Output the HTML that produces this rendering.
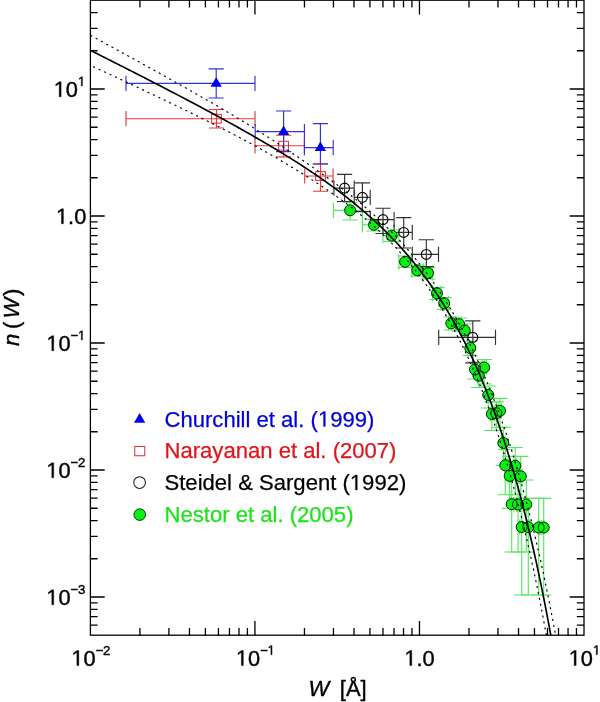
<!DOCTYPE html>
<html><head><meta charset="utf-8"><title>n(W)</title>
<style>html,body{margin:0;padding:0;background:#fff;}body{width:600px;height:702px;position:relative;overflow:hidden;font-family:"Liberation Sans",sans-serif;}</style>
</head><body>
<svg width="600" height="702" viewBox="0 0 600 702" style="position:absolute;left:0;top:0;will-change:transform">
<defs><clipPath id="cp"><rect x="90.40" y="0.20" width="493.60" height="635.00"/></clipPath></defs>
<g clip-path="url(#cp)">
<path d="M333.4,210.3H362.4M333.4,202.7V217.9M362.4,202.7V217.9" stroke="#55e85e" stroke-width="1.15" fill="none"/>
<path d="M350.1,202.3V220.0M342.5,202.3H357.7M342.5,220.0H357.7" stroke="#55e85e" stroke-width="1.15" fill="none"/>
<path d="M362.4,224.8H383.0M362.4,217.2V232.4M383.0,217.2V232.4" stroke="#55e85e" stroke-width="1.15" fill="none"/>
<path d="M374.0,219.3V231.0M366.4,219.3H381.6M366.4,231.0H381.6" stroke="#55e85e" stroke-width="1.15" fill="none"/>
<path d="M383.0,235.7H398.9M383.0,228.1V243.3M398.9,228.1V243.3" stroke="#55e85e" stroke-width="1.15" fill="none"/>
<path d="M391.7,230.0V241.5M384.1,230.0H399.3M384.1,241.5H399.3" stroke="#55e85e" stroke-width="1.15" fill="none"/>
<path d="M398.9,261.8H411.9M398.9,254.2V269.4M411.9,254.2V269.4" stroke="#55e85e" stroke-width="1.15" fill="none"/>
<path d="M405.1,256.0V267.5M397.5,256.0H412.7M397.5,267.5H412.7" stroke="#55e85e" stroke-width="1.15" fill="none"/>
<path d="M411.9,270.4H423.0M411.9,262.8V278.0M423.0,262.8V278.0" stroke="#55e85e" stroke-width="1.15" fill="none"/>
<path d="M417.3,265.0V276.0M409.7,265.0H424.9M409.7,276.0H424.9" stroke="#55e85e" stroke-width="1.15" fill="none"/>
<path d="M423.0,273.1H432.5M423.0,265.5V280.7M432.5,265.5V280.7" stroke="#55e85e" stroke-width="1.15" fill="none"/>
<path d="M428.0,267.5V279.0M420.4,267.5H435.6M420.4,279.0H435.6" stroke="#55e85e" stroke-width="1.15" fill="none"/>
<path d="M432.5,293.3H440.9M432.5,285.7V300.9M440.9,285.7V300.9" stroke="#55e85e" stroke-width="1.15" fill="none"/>
<path d="M437.0,287.5V299.5M429.4,287.5H444.6M429.4,299.5H444.6" stroke="#55e85e" stroke-width="1.15" fill="none"/>
<path d="M440.9,303.3H448.4M440.9,295.7V310.9M448.4,295.7V310.9" stroke="#55e85e" stroke-width="1.15" fill="none"/>
<path d="M444.2,297.5V309.5M436.6,297.5H451.8M436.6,309.5H451.8" stroke="#55e85e" stroke-width="1.15" fill="none"/>
<path d="M448.4,323.3H455.3M448.4,315.7V330.9M455.3,315.7V330.9" stroke="#55e85e" stroke-width="1.15" fill="none"/>
<path d="M451.3,317.0V330.0M443.7,317.0H458.9M443.7,330.0H458.9" stroke="#55e85e" stroke-width="1.15" fill="none"/>
<path d="M455.3,324.2H461.5M455.3,316.6V331.8M461.5,316.6V331.8" stroke="#55e85e" stroke-width="1.15" fill="none"/>
<path d="M459.2,318.0V331.0M451.6,318.0H466.8M451.6,331.0H466.8" stroke="#55e85e" stroke-width="1.15" fill="none"/>
<path d="M461.5,330.5H467.2M461.5,322.9V338.1M467.2,322.9V338.1" stroke="#55e85e" stroke-width="1.15" fill="none"/>
<path d="M464.7,324.0V337.5M457.1,324.0H472.3M457.1,337.5H472.3" stroke="#55e85e" stroke-width="1.15" fill="none"/>
<path d="M467.2,348.0H472.5M467.2,340.4V355.6M472.5,340.4V355.6" stroke="#55e85e" stroke-width="1.15" fill="none"/>
<path d="M470.3,341.0V355.5M462.7,341.0H477.9M462.7,355.5H477.9" stroke="#55e85e" stroke-width="1.15" fill="none"/>
<path d="M482.0,367.5H486.4M482.0,359.9V375.1M486.4,359.9V375.1" stroke="#55e85e" stroke-width="1.15" fill="none"/>
<path d="M484.2,359.5V384.0M476.6,359.5H491.8M476.6,384.0H491.8" stroke="#55e85e" stroke-width="1.15" fill="none"/>
<path d="M472.5,369.5H477.4M472.5,361.9V377.1M477.4,361.9V377.1" stroke="#55e85e" stroke-width="1.15" fill="none"/>
<path d="M475.0,362.0V379.0M467.4,362.0H482.6M467.4,379.0H482.6" stroke="#55e85e" stroke-width="1.15" fill="none"/>
<path d="M477.4,375.8H482.0M477.4,368.2V383.4M482.0,368.2V383.4" stroke="#55e85e" stroke-width="1.15" fill="none"/>
<path d="M478.7,367.5V387.5M471.1,367.5H486.3M471.1,387.5H486.3" stroke="#55e85e" stroke-width="1.15" fill="none"/>
<path d="M486.4,395.0H490.4M486.4,387.4V402.6M490.4,387.4V402.6" stroke="#55e85e" stroke-width="1.15" fill="none"/>
<path d="M488.3,386.0V408.0M480.7,386.0H495.9M480.7,408.0H495.9" stroke="#55e85e" stroke-width="1.15" fill="none"/>
<path d="M498.0,410.8H501.5M498.0,403.2V418.4M501.5,403.2V418.4" stroke="#55e85e" stroke-width="1.15" fill="none"/>
<path d="M500.0,398.4V427.2M492.4,398.4H507.6M492.4,427.2H507.6" stroke="#55e85e" stroke-width="1.15" fill="none"/>
<path d="M494.3,413.3H498.0M494.3,405.7V420.9M498.0,405.7V420.9" stroke="#55e85e" stroke-width="1.15" fill="none"/>
<path d="M496.3,401.8V430.5M488.7,401.8H503.9M488.7,430.5H503.9" stroke="#55e85e" stroke-width="1.15" fill="none"/>
<path d="M490.4,414.0H494.3M490.4,406.4V421.6M494.3,406.4V421.6" stroke="#55e85e" stroke-width="1.15" fill="none"/>
<path d="M491.9,402.0V430.5M484.3,402.0H499.5M484.3,430.5H499.5" stroke="#55e85e" stroke-width="1.15" fill="none"/>
<path d="M501.5,443.0H504.8M501.5,435.4V450.6M504.8,435.4V450.6" stroke="#55e85e" stroke-width="1.15" fill="none"/>
<path d="M503.3,427.2V465.3M495.7,427.2H510.9M495.7,465.3H510.9" stroke="#55e85e" stroke-width="1.15" fill="none"/>
<path d="M504.8,465.3H508.0M504.8,457.7V472.9M508.0,457.7V472.9" stroke="#55e85e" stroke-width="1.15" fill="none"/>
<path d="M505.3,449.5V494.7M497.7,449.5H512.9M497.7,494.7H512.9" stroke="#55e85e" stroke-width="1.15" fill="none"/>
<path d="M513.9,465.8H516.7M513.9,458.2V473.4M516.7,458.2V473.4" stroke="#55e85e" stroke-width="1.15" fill="none"/>
<path d="M515.3,447.5V494.7M507.7,447.5H522.9M507.7,494.7H522.9" stroke="#55e85e" stroke-width="1.15" fill="none"/>
<path d="M508.0,475.8H511.0M508.0,468.2V483.4M511.0,468.2V483.4" stroke="#55e85e" stroke-width="1.15" fill="none"/>
<path d="M509.7,456.3V508.3M502.1,456.3H517.3M502.1,508.3H517.3" stroke="#55e85e" stroke-width="1.15" fill="none"/>
<path d="M519.4,476.3H522.0M519.4,468.7V483.9M522.0,468.7V483.9" stroke="#55e85e" stroke-width="1.15" fill="none"/>
<path d="M520.8,456.3V508.3M513.2,456.3H528.4M513.2,508.3H528.4" stroke="#55e85e" stroke-width="1.15" fill="none"/>
<path d="M511.0,504.2H513.9M511.0,496.6V511.8M513.9,496.6V511.8" stroke="#55e85e" stroke-width="1.15" fill="none"/>
<path d="M511.7,480.0V552.0M504.1,480.0H519.3M504.1,552.0H519.3" stroke="#55e85e" stroke-width="1.15" fill="none"/>
<path d="M516.7,504.5H519.4M516.7,496.9V512.1M519.4,496.9V512.1" stroke="#55e85e" stroke-width="1.15" fill="none"/>
<path d="M518.0,480.0V552.0M510.4,480.0H525.6M510.4,552.0H525.6" stroke="#55e85e" stroke-width="1.15" fill="none"/>
<path d="M524.5,504.5H526.9M524.5,496.9V512.1M526.9,496.9V512.1" stroke="#55e85e" stroke-width="1.15" fill="none"/>
<path d="M526.3,480.0V552.0M518.7,480.0H533.9M518.7,552.0H533.9" stroke="#55e85e" stroke-width="1.15" fill="none"/>
<path d="M519.4,527.0H522.0M519.4,519.4V534.6M522.0,519.4V534.6" stroke="#55e85e" stroke-width="1.15" fill="none"/>
<path d="M521.7,498.3V595.0M514.1,498.3H529.3M514.1,595.0H529.3" stroke="#55e85e" stroke-width="1.15" fill="none"/>
<path d="M526.9,527.2H529.3M526.9,519.6V534.8M529.3,519.6V534.8" stroke="#55e85e" stroke-width="1.15" fill="none"/>
<path d="M528.3,498.3V595.0M520.7,498.3H535.9M520.7,595.0H535.9" stroke="#55e85e" stroke-width="1.15" fill="none"/>
<path d="M538.0,527.5H540.0M538.0,519.9V535.1M540.0,519.9V535.1" stroke="#55e85e" stroke-width="1.15" fill="none"/>
<path d="M538.7,498.3V595.0M531.1,498.3H546.3M531.1,595.0H546.3" stroke="#55e85e" stroke-width="1.15" fill="none"/>
<path d="M541.9,527.5H543.8M541.9,519.9V535.1M543.8,519.9V535.1" stroke="#55e85e" stroke-width="1.15" fill="none"/>
<path d="M543.7,498.3V595.0M536.1,498.3H551.3M536.1,595.0H551.3" stroke="#55e85e" stroke-width="1.15" fill="none"/>
<path d="M333.9,188.1H354.2M333.9,180.5V195.7M354.2,180.5V195.7" stroke="#333" stroke-width="1.15" fill="none"/>
<path d="M344.6,174.4V201.5M337.0,174.4H352.2M337.0,201.5H352.2" stroke="#333" stroke-width="1.15" fill="none"/>
<path d="M354.2,197.3H370.2M354.2,189.7V204.9M370.2,189.7V204.9" stroke="#333" stroke-width="1.15" fill="none"/>
<path d="M362.4,182.9V211.6M354.8,182.9H370.0M354.8,211.6H370.0" stroke="#333" stroke-width="1.15" fill="none"/>
<path d="M370.3,219.6H394.1M370.3,212.0V227.2M394.1,212.0V227.2" stroke="#333" stroke-width="1.15" fill="none"/>
<path d="M383.0,208.2V233.5M375.4,208.2H390.6M375.4,233.5H390.6" stroke="#333" stroke-width="1.15" fill="none"/>
<path d="M394.1,232.4H412.3M394.1,224.8V240.0M412.3,224.8V240.0" stroke="#333" stroke-width="1.15" fill="none"/>
<path d="M403.7,217.6V248.0M396.1,217.6H411.3M396.1,248.0H411.3" stroke="#333" stroke-width="1.15" fill="none"/>
<path d="M412.3,254.4H438.5M412.3,246.8V262.0M438.5,246.8V262.0" stroke="#333" stroke-width="1.15" fill="none"/>
<path d="M426.3,239.7V266.6M418.7,239.7H433.9M418.7,266.6H433.9" stroke="#333" stroke-width="1.15" fill="none"/>
<path d="M438.7,337.3H495.5M438.7,329.7V344.9M495.5,329.7V344.9" stroke="#333" stroke-width="1.15" fill="none"/>
<path d="M472.8,320.8V362.8M465.2,320.8H480.4M465.2,362.8H480.4" stroke="#333" stroke-width="1.15" fill="none"/>
<path d="M126.0,118.7H255.0M126.0,111.1V126.3M255.0,111.1V126.3" stroke="#e63c3c" stroke-width="1.15" fill="none"/>
<path d="M216.5,109.5V128.0M208.9,109.5H224.1M208.9,128.0H224.1" stroke="#e63c3c" stroke-width="1.15" fill="none"/>
<path d="M255.0,145.7H304.4M255.0,138.1V153.3M304.4,138.1V153.3" stroke="#e63c3c" stroke-width="1.15" fill="none"/>
<path d="M283.6,135.2V156.8M276.0,135.2H291.2M276.0,156.8H291.2" stroke="#e63c3c" stroke-width="1.15" fill="none"/>
<path d="M304.7,176.0H333.1M304.7,168.4V183.6M333.1,168.4V183.6" stroke="#e63c3c" stroke-width="1.15" fill="none"/>
<path d="M320.5,163.9V191.2M312.9,163.9H328.1M312.9,191.2H328.1" stroke="#e63c3c" stroke-width="1.15" fill="none"/>
<path d="M126.0,83.3H255.0M126.0,75.7V90.9M255.0,75.7V90.9" stroke="#3434d6" stroke-width="1.15" fill="none"/>
<path d="M216.2,68.9V98.0M208.6,68.9H223.8M208.6,98.0H223.8" stroke="#3434d6" stroke-width="1.15" fill="none"/>
<path d="M255.2,131.6H304.4M255.2,124.0V139.2M304.4,124.0V139.2" stroke="#3434d6" stroke-width="1.15" fill="none"/>
<path d="M283.6,111.0V151.6M276.0,111.0H291.2M276.0,151.6H291.2" stroke="#3434d6" stroke-width="1.15" fill="none"/>
<path d="M304.4,147.6H333.2M304.4,140.0V155.2M333.2,140.0V155.2" stroke="#3434d6" stroke-width="1.15" fill="none"/>
<path d="M320.4,123.6V164.0M312.8,123.6H328.0M312.8,164.0H328.0" stroke="#3434d6" stroke-width="1.15" fill="none"/>
<circle cx="350.1" cy="210.3" r="5.5" fill="#08f010"/>
<circle cx="374.0" cy="224.8" r="5.5" fill="#08f010"/>
<circle cx="391.7" cy="235.7" r="5.5" fill="#08f010"/>
<circle cx="405.1" cy="261.8" r="5.5" fill="#08f010"/>
<circle cx="417.3" cy="270.4" r="5.5" fill="#08f010"/>
<circle cx="428.0" cy="273.1" r="5.5" fill="#08f010"/>
<circle cx="437.0" cy="293.3" r="5.5" fill="#08f010"/>
<circle cx="444.2" cy="303.3" r="5.5" fill="#08f010"/>
<circle cx="451.3" cy="323.3" r="5.5" fill="#08f010"/>
<circle cx="459.2" cy="324.2" r="5.5" fill="#08f010"/>
<circle cx="464.7" cy="330.5" r="5.5" fill="#08f010"/>
<circle cx="470.3" cy="348.0" r="5.5" fill="#08f010"/>
<circle cx="484.2" cy="367.5" r="5.5" fill="#08f010"/>
<circle cx="475.0" cy="369.5" r="5.5" fill="#08f010"/>
<circle cx="478.7" cy="375.8" r="5.5" fill="#08f010"/>
<circle cx="488.3" cy="395.0" r="5.5" fill="#08f010"/>
<circle cx="500.0" cy="410.8" r="5.5" fill="#08f010"/>
<circle cx="496.3" cy="413.3" r="5.5" fill="#08f010"/>
<circle cx="491.9" cy="414.0" r="5.5" fill="#08f010"/>
<circle cx="503.3" cy="443.0" r="5.5" fill="#08f010"/>
<circle cx="505.3" cy="465.3" r="5.5" fill="#08f010"/>
<circle cx="515.3" cy="465.8" r="5.5" fill="#08f010"/>
<circle cx="509.7" cy="475.8" r="5.5" fill="#08f010"/>
<circle cx="520.8" cy="476.3" r="5.5" fill="#08f010"/>
<circle cx="511.7" cy="504.2" r="5.5" fill="#08f010"/>
<circle cx="518.0" cy="504.5" r="5.5" fill="#08f010"/>
<circle cx="526.3" cy="504.5" r="5.5" fill="#08f010"/>
<circle cx="521.7" cy="527.0" r="5.5" fill="#08f010"/>
<circle cx="528.3" cy="527.2" r="5.5" fill="#08f010"/>
<circle cx="538.7" cy="527.5" r="5.5" fill="#08f010"/>
<circle cx="543.7" cy="527.5" r="5.5" fill="#08f010"/>
<circle cx="350.1" cy="210.3" r="5.5" fill="none" stroke="#002800" stroke-width="1"/>
<circle cx="374.0" cy="224.8" r="5.5" fill="none" stroke="#002800" stroke-width="1"/>
<circle cx="391.7" cy="235.7" r="5.5" fill="none" stroke="#002800" stroke-width="1"/>
<circle cx="405.1" cy="261.8" r="5.5" fill="none" stroke="#002800" stroke-width="1"/>
<circle cx="417.3" cy="270.4" r="5.5" fill="none" stroke="#002800" stroke-width="1"/>
<circle cx="428.0" cy="273.1" r="5.5" fill="none" stroke="#002800" stroke-width="1"/>
<circle cx="437.0" cy="293.3" r="5.5" fill="none" stroke="#002800" stroke-width="1"/>
<circle cx="444.2" cy="303.3" r="5.5" fill="none" stroke="#002800" stroke-width="1"/>
<circle cx="451.3" cy="323.3" r="5.5" fill="none" stroke="#002800" stroke-width="1"/>
<circle cx="459.2" cy="324.2" r="5.5" fill="none" stroke="#002800" stroke-width="1"/>
<circle cx="464.7" cy="330.5" r="5.5" fill="none" stroke="#002800" stroke-width="1"/>
<circle cx="470.3" cy="348.0" r="5.5" fill="none" stroke="#002800" stroke-width="1"/>
<circle cx="484.2" cy="367.5" r="5.5" fill="none" stroke="#002800" stroke-width="1"/>
<circle cx="475.0" cy="369.5" r="5.5" fill="none" stroke="#002800" stroke-width="1"/>
<circle cx="478.7" cy="375.8" r="5.5" fill="none" stroke="#002800" stroke-width="1"/>
<circle cx="488.3" cy="395.0" r="5.5" fill="none" stroke="#002800" stroke-width="1"/>
<circle cx="500.0" cy="410.8" r="5.5" fill="none" stroke="#002800" stroke-width="1"/>
<circle cx="496.3" cy="413.3" r="5.5" fill="none" stroke="#002800" stroke-width="1"/>
<circle cx="491.9" cy="414.0" r="5.5" fill="none" stroke="#002800" stroke-width="1"/>
<circle cx="503.3" cy="443.0" r="5.5" fill="none" stroke="#002800" stroke-width="1"/>
<circle cx="505.3" cy="465.3" r="5.5" fill="none" stroke="#002800" stroke-width="1"/>
<circle cx="515.3" cy="465.8" r="5.5" fill="none" stroke="#002800" stroke-width="1"/>
<circle cx="509.7" cy="475.8" r="5.5" fill="none" stroke="#002800" stroke-width="1"/>
<circle cx="520.8" cy="476.3" r="5.5" fill="none" stroke="#002800" stroke-width="1"/>
<circle cx="511.7" cy="504.2" r="5.5" fill="none" stroke="#002800" stroke-width="1"/>
<circle cx="518.0" cy="504.5" r="5.5" fill="none" stroke="#002800" stroke-width="1"/>
<circle cx="526.3" cy="504.5" r="5.5" fill="none" stroke="#002800" stroke-width="1"/>
<circle cx="521.7" cy="527.0" r="5.5" fill="none" stroke="#002800" stroke-width="1"/>
<circle cx="528.3" cy="527.2" r="5.5" fill="none" stroke="#002800" stroke-width="1"/>
<circle cx="538.7" cy="527.5" r="5.5" fill="none" stroke="#002800" stroke-width="1"/>
<circle cx="543.7" cy="527.5" r="5.5" fill="none" stroke="#002800" stroke-width="1"/>
<circle cx="344.6" cy="188.1" r="4.95" fill="none" stroke="#000" stroke-width="1.1"/>
<circle cx="362.4" cy="197.3" r="4.95" fill="none" stroke="#000" stroke-width="1.1"/>
<circle cx="383.0" cy="219.6" r="4.95" fill="none" stroke="#000" stroke-width="1.1"/>
<circle cx="403.7" cy="232.4" r="4.95" fill="none" stroke="#000" stroke-width="1.1"/>
<circle cx="426.3" cy="254.4" r="4.95" fill="none" stroke="#000" stroke-width="1.1"/>
<circle cx="472.8" cy="337.3" r="4.95" fill="none" stroke="#000" stroke-width="1.1"/>
<rect x="211.65" y="114.30" width="9.7" height="8.8" fill="none" stroke="#d63038" stroke-width="1"/>
<rect x="278.75" y="141.30" width="9.7" height="8.8" fill="none" stroke="#d63038" stroke-width="1"/>
<rect x="315.65" y="171.60" width="9.7" height="8.8" fill="none" stroke="#d63038" stroke-width="1"/>
<path d="M216.20,77.30L221.85,86.70H210.55Z" fill="#0000f0"/>
<path d="M283.60,125.60L289.25,135.00H277.95Z" fill="#0000f0"/>
<path d="M320.40,141.60L326.05,151.00H314.75Z" fill="#0000f0"/>
<path d="M90.40,50.33 L91.59,50.94 L92.79,51.54 L93.98,52.14 L95.18,52.74 L96.37,53.34 L97.56,53.94 L98.76,54.55 L99.95,55.15 L101.15,55.75 L102.34,56.36 L103.54,56.96 L104.73,57.56 L105.92,58.17 L107.12,58.77 L108.31,59.37 L109.51,59.98 L110.70,60.58 L111.89,61.19 L113.09,61.79 L114.28,62.40 L115.48,63.00 L116.67,63.61 L117.87,64.21 L119.06,64.82 L120.25,65.42 L121.45,66.03 L122.64,66.64 L123.84,67.24 L125.03,67.85 L126.22,68.46 L127.42,69.06 L128.61,69.67 L129.81,70.28 L131.00,70.89 L132.19,71.50 L133.39,72.11 L134.58,72.72 L135.78,73.33 L136.97,73.94 L138.17,74.55 L139.36,75.16 L140.55,75.77 L141.75,76.38 L142.94,76.99 L144.14,77.60 L145.33,78.21 L146.52,78.83 L147.72,79.44 L148.91,80.05 L150.11,80.66 L151.30,81.28 L152.50,81.89 L153.69,82.51 L154.88,83.12 L156.08,83.74 L157.27,84.35 L158.47,84.97 L159.66,85.59 L160.85,86.20 L162.05,86.82 L163.24,87.44 L164.44,88.06 L165.63,88.68 L166.82,89.29 L168.02,89.91 L169.21,90.53 L170.41,91.16 L171.60,91.78 L172.80,92.40 L173.99,93.02 L175.18,93.64 L176.38,94.27 L177.57,94.89 L178.77,95.51 L179.96,96.14 L181.15,96.76 L182.35,97.39 L183.54,98.02 L184.74,98.64 L185.93,99.27 L187.13,99.90 L188.32,100.53 L189.51,101.16 L190.71,101.79 L191.90,102.42 L193.10,103.05 L194.29,103.68 L195.48,104.31 L196.68,104.95 L197.87,105.58 L199.07,106.22 L200.26,106.85 L201.45,107.49 L202.65,108.13 L203.84,108.76 L205.04,109.40 L206.23,110.04 L207.43,110.68 L208.62,111.32 L209.81,111.96 L211.01,112.61 L212.20,113.25 L213.40,113.90 L214.59,114.54 L215.78,115.19 L216.98,115.83 L218.17,116.48 L219.37,117.13 L220.56,117.78 L221.76,118.43 L222.95,119.08 L224.14,119.74 L225.34,120.39 L226.53,121.05 L227.73,121.70 L228.92,122.36 L230.11,123.02 L231.31,123.68 L232.50,124.34 L233.70,125.00 L234.89,125.66 L236.08,126.33 L237.28,126.99 L238.47,127.66 L239.67,128.33 L240.86,129.00 L242.06,129.67 L243.25,130.34 L244.44,131.01 L245.64,131.69 L246.83,132.36 L248.03,133.04 L249.22,133.72 L250.41,134.40 L251.61,135.08 L252.80,135.76 L254.00,136.45 L255.19,137.13 L256.39,137.82 L257.58,138.51 L258.77,139.20 L259.97,139.90 L261.16,140.59 L262.36,141.29 L263.55,141.98 L264.74,142.68 L265.94,143.39 L267.13,144.09 L268.33,144.80 L269.52,145.50 L270.71,146.21 L271.91,146.92 L273.10,147.64 L274.30,148.35 L275.49,149.07 L276.69,149.79 L277.88,150.51 L279.07,151.23 L280.27,151.96 L281.46,152.69 L282.66,153.42 L283.85,154.15 L285.04,154.89 L286.24,155.63 L287.43,156.37 L288.63,157.11 L289.82,157.85 L291.02,158.60 L292.21,159.35 L293.40,160.11 L294.60,160.86 L295.79,161.62 L296.99,162.38 L298.18,163.15 L299.37,163.91 L300.57,164.68 L301.76,165.46 L302.96,166.23 L304.15,167.01 L305.34,167.79 L306.54,168.58 L307.73,169.37 L308.93,170.16 L310.12,170.96 L311.32,171.76 L312.51,172.56 L313.70,173.37 L314.90,174.18 L316.09,174.99 L317.29,175.81 L318.48,176.63 L319.67,177.45 L320.87,178.28 L322.06,179.11 L323.26,179.95 L324.45,180.79 L325.65,181.64 L326.84,182.49 L328.03,183.34 L329.23,184.20 L330.42,185.06 L331.62,185.93 L332.81,186.80 L334.00,187.68 L335.20,188.56 L336.39,189.45 L337.59,190.34 L338.78,191.23 L339.97,192.13 L341.17,193.04 L342.36,193.95 L343.56,194.87 L344.75,195.79 L345.95,196.72 L347.14,197.66 L348.33,198.60 L349.53,199.54 L350.72,200.49 L351.92,201.45 L353.11,202.42 L354.30,203.39 L355.50,204.36 L356.69,205.35 L357.89,206.34 L359.08,207.33 L360.28,208.34 L361.47,209.35 L362.66,210.36 L363.86,211.39 L365.05,212.42 L366.25,213.46 L367.44,214.51 L368.63,215.56 L369.83,216.62 L371.02,217.69 L372.22,218.77 L373.41,219.86 L374.60,220.95 L375.80,222.06 L376.99,223.17 L378.19,224.29 L379.38,225.42 L380.58,226.56 L381.77,227.70 L382.96,228.86 L384.16,230.03 L385.35,231.20 L386.55,232.39 L387.74,233.59 L388.93,234.79 L390.13,236.01 L391.32,237.24 L392.52,238.47 L393.71,239.72 L394.91,240.98 L396.10,242.26 L397.29,243.54 L398.49,244.83 L399.68,246.14 L400.88,247.46 L402.07,248.79 L403.26,250.13 L404.46,251.49 L405.65,252.85 L406.85,254.24 L408.04,255.63 L409.23,257.04 L410.43,258.46 L411.62,259.90 L412.82,261.35 L414.01,262.81 L415.21,264.29 L416.40,265.79 L417.59,267.30 L418.79,268.82 L419.98,270.36 L421.18,271.92 L422.37,273.49 L423.56,275.08 L424.76,276.69 L425.95,278.31 L427.15,279.95 L428.34,281.61 L429.54,283.29 L430.73,284.98 L431.92,286.70 L433.12,288.43 L434.31,290.18 L435.51,291.95 L436.70,293.74 L437.89,295.55 L439.09,297.39 L440.28,299.24 L441.48,301.11 L442.67,303.01 L443.86,304.93 L445.06,306.87 L446.25,308.83 L447.45,310.81 L448.64,312.82 L449.84,314.86 L451.03,316.91 L452.22,319.00 L453.42,321.10 L454.61,323.24 L455.81,325.40 L457.00,327.58 L458.19,329.79 L459.39,332.03 L460.58,334.30 L461.78,336.59 L462.97,338.92 L464.17,341.27 L465.36,343.65 L466.55,346.07 L467.75,348.51 L468.94,350.99 L470.14,353.49 L471.33,356.03 L472.52,358.60 L473.72,361.21 L474.91,363.85 L476.11,366.52 L477.30,369.23 L478.49,371.98 L479.69,374.76 L480.88,377.57 L482.08,380.43 L483.27,383.32 L484.47,386.25 L485.66,389.23 L486.85,392.24 L488.05,395.29 L489.24,398.38 L490.44,401.52 L491.63,404.70 L492.82,407.92 L494.02,411.19 L495.21,414.50 L496.41,417.86 L497.60,421.26 L498.80,424.71 L499.99,428.21 L501.18,431.76 L502.38,435.36 L503.57,439.01 L504.77,442.71 L505.96,446.46 L507.15,450.27 L508.35,454.13 L509.54,458.05 L510.74,462.02 L511.93,466.05 L513.12,470.13 L514.32,474.28 L515.51,478.48 L516.71,482.75 L517.90,487.08 L519.10,491.47 L520.29,495.93 L521.48,500.45 L522.68,505.03 L523.87,509.69 L525.07,514.41 L526.26,519.20 L527.45,524.06 L528.65,529.00 L529.84,534.01 L531.04,539.09 L532.23,544.25 L533.43,549.48 L534.62,554.80 L535.81,560.19 L537.01,565.66 L538.20,571.22 L539.40,576.86 L540.59,582.58 L541.78,588.39 L542.98,594.29 L544.17,600.28 L545.37,606.36 L546.56,612.53 L547.75,618.80 L548.95,625.16 L550.14,631.62 L551.34,638.18 L552.53,644.84" stroke="#000" stroke-width="1.65" fill="none"/>
<path d="M90.40,35.30 L91.59,35.95 L92.79,36.60 L93.98,37.25 L95.18,37.90 L96.37,38.56 L97.56,39.21 L98.76,39.86 L99.95,40.51 L101.15,41.16 L102.34,41.81 L103.54,42.46 L104.73,43.11 L105.92,43.77 L107.12,44.42 L108.31,45.07 L109.51,45.72 L110.70,46.38 L111.89,47.03 L113.09,47.68 L114.28,48.34 L115.48,48.99 L116.67,49.64 L117.87,50.30 L119.06,50.95 L120.25,51.61 L121.45,52.26 L122.64,52.92 L123.84,53.57 L125.03,54.23 L126.22,54.88 L127.42,55.54 L128.61,56.19 L129.81,56.85 L131.00,57.51 L132.19,58.16 L133.39,58.82 L134.58,59.48 L135.78,60.14 L136.97,60.79 L138.17,61.45 L139.36,62.11 L140.55,62.77 L141.75,63.43 L142.94,64.09 L144.14,64.75 L145.33,65.41 L146.52,66.07 L147.72,66.73 L148.91,67.39 L150.11,68.05 L151.30,68.71 L152.50,69.37 L153.69,70.04 L154.88,70.70 L156.08,71.36 L157.27,72.03 L158.47,72.69 L159.66,73.35 L160.85,74.02 L162.05,74.68 L163.24,75.35 L164.44,76.01 L165.63,76.68 L166.82,77.35 L168.02,78.01 L169.21,78.68 L170.41,79.35 L171.60,80.02 L172.80,80.69 L173.99,81.36 L175.18,82.03 L176.38,82.70 L177.57,83.37 L178.77,84.04 L179.96,84.71 L181.15,85.38 L182.35,86.05 L183.54,86.73 L184.74,87.40 L185.93,88.08 L187.13,88.75 L188.32,89.43 L189.51,90.10 L190.71,90.78 L191.90,91.46 L193.10,92.14 L194.29,92.81 L195.48,93.49 L196.68,94.17 L197.87,94.86 L199.07,95.54 L200.26,96.22 L201.45,96.90 L202.65,97.59 L203.84,98.27 L205.04,98.96 L206.23,99.64 L207.43,100.33 L208.62,101.02 L209.81,101.71 L211.01,102.40 L212.20,103.09 L213.40,103.78 L214.59,104.47 L215.78,105.17 L216.98,105.86 L218.17,106.56 L219.37,107.26 L220.56,107.96 L221.76,108.65 L222.95,109.36 L224.14,110.06 L225.34,110.76 L226.53,111.47 L227.73,112.17 L228.92,112.88 L230.11,113.59 L231.31,114.30 L232.50,115.01 L233.70,115.73 L234.89,116.44 L236.08,117.16 L237.28,117.88 L238.47,118.60 L239.67,119.32 L240.86,120.04 L242.06,120.77 L243.25,121.50 L244.44,122.23 L245.64,122.96 L246.83,123.69 L248.03,124.43 L249.22,125.16 L250.41,125.90 L251.61,126.65 L252.80,127.39 L254.00,128.14 L255.19,128.88 L256.39,129.63 L257.58,130.39 L258.77,131.14 L259.97,131.90 L261.16,132.66 L262.36,133.42 L263.55,134.18 L264.74,134.95 L265.94,135.72 L267.13,136.49 L268.33,137.26 L269.52,138.03 L270.71,138.81 L271.91,139.59 L273.10,140.37 L274.30,141.15 L275.49,141.94 L276.69,142.73 L277.88,143.52 L279.07,144.31 L280.27,145.10 L281.46,145.90 L282.66,146.69 L283.85,147.49 L285.04,148.29 L286.24,149.10 L287.43,149.90 L288.63,150.71 L289.82,151.52 L291.02,152.32 L292.21,153.14 L293.40,153.95 L294.60,154.76 L295.79,155.58 L296.99,156.39 L298.18,157.21 L299.37,158.03 L300.57,158.85 L301.76,159.68 L302.96,160.50 L304.15,161.33 L305.34,162.15 L306.54,162.98 L307.73,163.81 L308.93,164.64 L310.12,165.47 L311.32,166.31 L312.51,167.14 L313.70,167.98 L314.90,168.82 L316.09,169.66 L317.29,170.50 L318.48,171.35 L319.67,172.19 L320.87,173.04 L322.06,173.89 L323.26,174.75 L324.45,175.60 L325.65,176.46 L326.84,177.32 L328.03,178.18 L329.23,179.05 L330.42,179.92 L331.62,180.79 L332.81,181.67 L334.00,182.54 L335.20,183.43 L336.39,184.31 L337.59,185.20 L338.78,186.10 L339.97,186.99 L341.17,187.90 L342.36,188.80 L343.56,189.72 L344.75,190.63 L345.95,191.55 L347.14,192.48 L348.33,193.41 L349.53,194.35 L350.72,195.29 L351.92,196.24 L353.11,197.20 L354.30,198.16 L355.50,199.12 L356.69,200.10 L357.89,201.08 L359.08,202.06 L360.28,203.05 L361.47,204.05 L362.66,205.06 L363.86,206.08 L365.05,207.10 L366.25,208.13 L367.44,209.16 L368.63,210.21 L369.83,211.26 L371.02,212.32 L372.22,213.39 L373.41,214.46 L374.60,215.55 L375.80,216.64 L376.99,217.74 L378.19,218.86 L379.38,219.97 L380.58,221.10 L381.77,222.24 L382.96,223.39 L384.16,224.55 L385.35,225.71 L386.55,226.89 L387.74,228.07 L388.93,229.27 L390.13,230.47 L391.32,231.69 L392.52,232.91 L393.71,234.15 L394.91,235.40 L396.10,236.66 L397.29,237.93 L398.49,239.21 L399.68,240.50 L400.88,241.80 L402.07,243.11 L403.26,244.44 L404.46,245.78 L405.65,247.13 L406.85,248.49 L408.04,249.86 L409.23,251.25 L410.43,252.65 L411.62,254.07 L412.82,255.49 L414.01,256.93 L415.21,258.39 L416.40,259.85 L417.59,261.34 L418.79,262.83 L419.98,264.34 L421.18,265.87 L422.37,267.41 L423.56,268.97 L424.76,270.54 L425.95,272.12 L427.15,273.73 L428.34,275.35 L429.54,276.98 L430.73,278.63 L431.92,280.30 L433.12,281.99 L434.31,283.70 L435.51,285.42 L436.70,287.16 L437.89,288.92 L439.09,290.70 L440.28,292.50 L441.48,294.32 L442.67,296.15 L443.86,298.01 L445.06,299.89 L446.25,301.79 L447.45,303.71 L448.64,305.65 L449.84,307.61 L451.03,309.60 L452.22,311.61 L453.42,313.64 L454.61,315.69 L455.81,317.77 L457.00,319.87 L458.19,322.00 L459.39,324.16 L460.58,326.33 L461.78,328.54 L462.97,330.77 L464.17,333.03 L465.36,335.31 L466.55,337.62 L467.75,339.96 L468.94,342.33 L470.14,344.73 L471.33,347.16 L472.52,349.61 L473.72,352.10 L474.91,354.62 L476.11,357.17 L477.30,359.76 L478.49,362.37 L479.69,365.02 L480.88,367.71 L482.08,370.42 L483.27,373.18 L484.47,375.96 L485.66,378.79 L486.85,381.65 L488.05,384.55 L489.24,387.48 L490.44,390.46 L491.63,393.47 L492.82,396.53 L494.02,399.62 L495.21,402.76 L496.41,405.94 L497.60,409.16 L498.80,412.43 L499.99,415.74 L501.18,419.09 L502.38,422.49 L503.57,425.94 L504.77,429.43 L505.96,432.97 L507.15,436.56 L508.35,440.20 L509.54,443.89 L510.74,447.63 L511.93,451.43 L513.12,455.28 L514.32,459.18 L515.51,463.13 L516.71,467.15 L517.90,471.22 L519.10,475.34 L520.29,479.53 L521.48,483.77 L522.68,488.08 L523.87,492.45 L525.07,496.88 L526.26,501.37 L527.45,505.93 L528.65,510.56 L529.84,515.25 L531.04,520.01 L532.23,524.84 L533.43,529.74 L534.62,534.71 L535.81,539.76 L537.01,544.88 L538.20,550.08 L539.40,555.35 L540.59,560.70 L541.78,566.13 L542.98,571.64 L544.17,577.23 L545.37,582.91 L546.56,588.67 L547.75,594.51 L548.95,600.45 L550.14,606.47 L551.34,612.59 L552.53,618.79 L553.73,625.09 L554.92,631.49 L556.11,637.98 L557.31,644.57" stroke="#000" stroke-width="1.15" fill="none" stroke-dasharray="2.1,3.9"/>
<path d="M90.40,65.37 L91.59,65.92 L92.79,66.47 L93.98,67.02 L95.18,67.58 L96.37,68.13 L97.56,68.68 L98.76,69.24 L99.95,69.79 L101.15,70.35 L102.34,70.90 L103.54,71.45 L104.73,72.01 L105.92,72.56 L107.12,73.12 L108.31,73.67 L109.51,74.23 L110.70,74.78 L111.89,75.34 L113.09,75.90 L114.28,76.45 L115.48,77.01 L116.67,77.57 L117.87,78.12 L119.06,78.68 L120.25,79.24 L121.45,79.80 L122.64,80.36 L123.84,80.91 L125.03,81.47 L126.22,82.03 L127.42,82.59 L128.61,83.15 L129.81,83.71 L131.00,84.27 L132.19,84.83 L133.39,85.39 L134.58,85.95 L135.78,86.51 L136.97,87.08 L138.17,87.64 L139.36,88.20 L140.55,88.76 L141.75,89.33 L142.94,89.89 L144.14,90.45 L145.33,91.02 L146.52,91.58 L147.72,92.15 L148.91,92.71 L150.11,93.28 L151.30,93.84 L152.50,94.41 L153.69,94.98 L154.88,95.54 L156.08,96.11 L157.27,96.68 L158.47,97.25 L159.66,97.82 L160.85,98.39 L162.05,98.96 L163.24,99.53 L164.44,100.10 L165.63,100.67 L166.82,101.24 L168.02,101.82 L169.21,102.39 L170.41,102.96 L171.60,103.54 L172.80,104.11 L173.99,104.68 L175.18,105.26 L176.38,105.84 L177.57,106.41 L178.77,106.99 L179.96,107.57 L181.15,108.15 L182.35,108.73 L183.54,109.31 L184.74,109.89 L185.93,110.47 L187.13,111.05 L188.32,111.63 L189.51,112.22 L190.71,112.80 L191.90,113.38 L193.10,113.97 L194.29,114.56 L195.48,115.14 L196.68,115.73 L197.87,116.32 L199.07,116.91 L200.26,117.50 L201.45,118.09 L202.65,118.68 L203.84,119.27 L205.04,119.87 L206.23,120.46 L207.43,121.06 L208.62,121.65 L209.81,122.25 L211.01,122.85 L212.20,123.45 L213.40,124.05 L214.59,124.65 L215.78,125.25 L216.98,125.86 L218.17,126.46 L219.37,127.07 L220.56,127.67 L221.76,128.28 L222.95,128.89 L224.14,129.50 L225.34,130.12 L226.53,130.73 L227.73,131.35 L228.92,131.96 L230.11,132.58 L231.31,133.20 L232.50,133.82 L233.70,134.44 L234.89,135.07 L236.08,135.69 L237.28,136.32 L238.47,136.95 L239.67,137.58 L240.86,138.21 L242.06,138.84 L243.25,139.48 L244.44,140.12 L245.64,140.76 L246.83,141.40 L248.03,142.04 L249.22,142.69 L250.41,143.34 L251.61,143.98 L252.80,144.64 L254.00,145.29 L255.19,145.94 L256.39,146.60 L257.58,147.26 L258.77,147.92 L259.97,148.59 L261.16,149.25 L262.36,149.92 L263.55,150.59 L264.74,151.27 L265.94,151.94 L267.13,152.62 L268.33,153.30 L269.52,153.98 L270.71,154.67 L271.91,155.35 L273.10,156.04 L274.30,156.73 L275.49,157.43 L276.69,158.12 L277.88,158.82 L279.07,159.52 L280.27,160.23 L281.46,160.93 L282.66,161.64 L283.85,162.35 L285.04,163.06 L286.24,163.78 L287.43,164.50 L288.63,165.22 L289.82,165.94 L291.02,166.66 L292.21,167.39 L293.40,168.12 L294.60,168.85 L295.79,169.59 L296.99,170.32 L298.18,171.06 L299.37,171.80 L300.57,172.55 L301.76,173.30 L302.96,174.04 L304.15,174.80 L305.34,175.55 L306.54,176.31 L307.73,177.07 L308.93,177.83 L310.12,178.59 L311.32,179.36 L312.51,180.13 L313.70,180.91 L314.90,181.68 L316.09,182.46 L317.29,183.25 L318.48,184.03 L319.67,184.82 L320.87,185.62 L322.06,186.41 L323.26,187.21 L324.45,188.02 L325.65,188.83 L326.84,189.64 L328.03,190.45 L329.23,191.27 L330.42,192.10 L331.62,192.93 L332.81,193.76 L334.00,194.60 L335.20,195.44 L336.39,196.29 L337.59,197.14 L338.78,198.00 L339.97,198.86 L341.17,199.73 L342.36,200.60 L343.56,201.48 L344.75,202.37 L345.95,203.26 L347.14,204.15 L348.33,205.06 L349.53,205.97 L350.72,206.88 L351.92,207.81 L353.11,208.74 L354.30,209.67 L355.50,210.62 L356.69,211.57 L357.89,212.53 L359.08,213.49 L360.28,214.46 L361.47,215.45 L362.66,216.44 L363.86,217.43 L365.05,218.44 L366.25,219.45 L367.44,220.48 L368.63,221.51 L369.83,222.55 L371.02,223.60 L372.22,224.65 L373.41,225.72 L374.60,226.80 L375.80,227.89 L376.99,228.98 L378.19,230.09 L379.38,231.20 L380.58,232.33 L381.77,233.47 L382.96,234.61 L384.16,235.77 L385.35,236.94 L386.55,238.12 L387.74,239.31 L388.93,240.51 L390.13,241.73 L391.32,242.95 L392.52,244.19 L393.71,245.44 L394.91,246.70 L396.10,247.98 L397.29,249.26 L398.49,250.56 L399.68,251.88 L400.88,253.20 L402.07,254.54 L403.26,255.89 L404.46,257.26 L405.65,258.64 L406.85,260.04 L408.04,261.45 L409.23,262.87 L410.43,264.31 L411.62,265.77 L412.82,267.24 L414.01,268.72 L415.21,270.22 L416.40,271.74 L417.59,273.28 L418.79,274.83 L419.98,276.40 L421.18,277.99 L422.37,279.59 L423.56,281.21 L424.76,282.85 L425.95,284.51 L427.15,286.19 L428.34,287.89 L429.54,289.60 L430.73,291.34 L431.92,293.09 L433.12,294.87 L434.31,296.67 L435.51,298.49 L436.70,300.33 L437.89,302.19 L439.09,304.08 L440.28,305.98 L441.48,307.91 L442.67,309.87 L443.86,311.84 L445.06,313.85 L446.25,315.87 L447.45,317.92 L448.64,320.00 L449.84,322.10 L451.03,324.23 L452.22,326.39 L453.42,328.57 L454.61,330.78 L455.81,333.02 L457.00,335.29 L458.19,337.58 L459.39,339.91 L460.58,342.27 L461.78,344.65 L462.97,347.07 L464.17,349.52 L465.36,352.00 L466.55,354.51 L467.75,357.06 L468.94,359.64 L470.14,362.26 L471.33,364.91 L472.52,367.59 L473.72,370.32 L474.91,373.07 L476.11,375.87 L477.30,378.70 L478.49,381.58 L479.69,384.49 L480.88,387.44 L482.08,390.43 L483.27,393.47 L484.47,396.54 L485.66,399.66 L486.85,402.82 L488.05,406.03 L489.24,409.28 L490.44,412.58 L491.63,415.92 L492.82,419.31 L494.02,422.75 L495.21,426.24 L496.41,429.77 L497.60,433.36 L498.80,437.00 L499.99,440.69 L501.18,444.43 L502.38,448.23 L503.57,452.08 L504.77,455.99 L505.96,459.96 L507.15,463.98 L508.35,468.06 L509.54,472.20 L510.74,476.40 L511.93,480.66 L513.12,484.99 L514.32,489.38 L515.51,493.84 L516.71,498.36 L517.90,502.94 L519.10,507.60 L520.29,512.32 L521.48,517.12 L522.68,521.99 L523.87,526.93 L525.07,531.94 L526.26,537.03 L527.45,542.20 L528.65,547.44 L529.84,552.76 L531.04,558.17 L532.23,563.65 L533.43,569.22 L534.62,574.88 L535.81,580.62 L537.01,586.44 L538.20,592.36 L539.40,598.37 L540.59,604.47 L541.78,610.66 L542.98,616.95 L544.17,623.33 L545.37,629.82 L546.56,636.40 L547.75,643.09" stroke="#000" stroke-width="1.15" fill="none" stroke-dasharray="2.1,3.9" stroke-dashoffset="3"/>
</g>
<rect x="90.4" y="0.2" width="493.6" height="635.0" fill="none" stroke="#000" stroke-width="1.3"/>
<path d="M139.93,635.2v-7.2M139.93,0.2v7.2M168.90,635.2v-7.2M168.90,0.2v7.2M189.46,635.2v-7.2M189.46,0.2v7.2M205.40,635.2v-7.2M205.40,0.2v7.2M218.43,635.2v-7.2M218.43,0.2v7.2M229.45,635.2v-7.2M229.45,0.2v7.2M238.99,635.2v-7.2M238.99,0.2v7.2M247.40,635.2v-7.2M247.40,0.2v7.2M254.93,635.2v-14.3M254.93,0.2v14.3M304.46,635.2v-7.2M304.46,0.2v7.2M333.44,635.2v-7.2M333.44,0.2v7.2M353.99,635.2v-7.2M353.99,0.2v7.2M369.94,635.2v-7.2M369.94,0.2v7.2M382.97,635.2v-7.2M382.97,0.2v7.2M393.98,635.2v-7.2M393.98,0.2v7.2M403.52,635.2v-7.2M403.52,0.2v7.2M411.94,635.2v-7.2M411.94,0.2v7.2M419.47,635.2v-14.3M419.47,0.2v14.3M469.00,635.2v-7.2M469.00,0.2v7.2M497.97,635.2v-7.2M497.97,0.2v7.2M518.53,635.2v-7.2M518.53,0.2v7.2M534.47,635.2v-7.2M534.47,0.2v7.2M547.50,635.2v-7.2M547.50,0.2v7.2M558.51,635.2v-7.2M558.51,0.2v7.2M568.06,635.2v-7.2M568.06,0.2v7.2M576.47,635.2v-7.2M576.47,0.2v7.2M90.4,625.17h7.2M584.0,625.17h-7.2M90.4,616.67h7.2M584.0,616.67h-7.2M90.4,609.31h7.2M584.0,609.31h-7.2M90.4,602.81h7.2M584.0,602.81h-7.2M90.4,597.00h14.3M584.0,597.00h-14.3M90.4,558.77h7.2M584.0,558.77h-7.2M90.4,536.41h7.2M584.0,536.41h-7.2M90.4,520.54h7.2M584.0,520.54h-7.2M90.4,508.23h7.2M584.0,508.23h-7.2M90.4,498.17h7.2M584.0,498.17h-7.2M90.4,489.67h7.2M584.0,489.67h-7.2M90.4,482.31h7.2M584.0,482.31h-7.2M90.4,475.81h7.2M584.0,475.81h-7.2M90.4,470.00h14.3M584.0,470.00h-14.3M90.4,431.77h7.2M584.0,431.77h-7.2M90.4,409.41h7.2M584.0,409.41h-7.2M90.4,393.54h7.2M584.0,393.54h-7.2M90.4,381.23h7.2M584.0,381.23h-7.2M90.4,371.17h7.2M584.0,371.17h-7.2M90.4,362.67h7.2M584.0,362.67h-7.2M90.4,355.31h7.2M584.0,355.31h-7.2M90.4,348.81h7.2M584.0,348.81h-7.2M90.4,343.00h14.3M584.0,343.00h-14.3M90.4,304.77h7.2M584.0,304.77h-7.2M90.4,282.41h7.2M584.0,282.41h-7.2M90.4,266.54h7.2M584.0,266.54h-7.2M90.4,254.23h7.2M584.0,254.23h-7.2M90.4,244.17h7.2M584.0,244.17h-7.2M90.4,235.67h7.2M584.0,235.67h-7.2M90.4,228.31h7.2M584.0,228.31h-7.2M90.4,221.81h7.2M584.0,221.81h-7.2M90.4,216.00h14.3M584.0,216.00h-14.3M90.4,177.77h7.2M584.0,177.77h-7.2M90.4,155.41h7.2M584.0,155.41h-7.2M90.4,139.54h7.2M584.0,139.54h-7.2M90.4,127.23h7.2M584.0,127.23h-7.2M90.4,117.17h7.2M584.0,117.17h-7.2M90.4,108.67h7.2M584.0,108.67h-7.2M90.4,101.31h7.2M584.0,101.31h-7.2M90.4,94.81h7.2M584.0,94.81h-7.2M90.4,89.00h14.3M584.0,89.00h-14.3M90.4,50.77h7.2M584.0,50.77h-7.2M90.4,28.41h7.2M584.0,28.41h-7.2M90.4,12.54h7.2M584.0,12.54h-7.2" stroke="#000" stroke-width="1.3" fill="none"/>
<g font-family="Liberation Sans, sans-serif" fill="#000" stroke-width="0.4" stroke-linejoin="round">
<path d="M61.12,96.80 L59.19,96.80 L59.19,83.63 L55.81,86.05 L55.81,84.24 L59.35,81.80 L61.12,81.80Z" fill="#000" stroke="#000"/><text x="65.83" y="96.8" font-size="21.8" fill="#000" stroke="#000" xml:space="preserve">0</text><path d="M82.44,85.95 L81.28,85.95 L81.28,77.98 L79.23,79.44 L79.23,78.34 L81.37,76.87 L82.44,76.87Z" fill="#000" stroke="#000"/>
<path d="M63.40,223.80 L61.47,223.80 L61.47,210.63 L58.09,213.05 L58.09,211.24 L61.63,208.80 L63.40,208.80Z" fill="#000" stroke="#000"/><text x="68.11" y="223.8" font-size="21.8" fill="#000" stroke="#000" xml:space="preserve">.0</text>
<path d="M53.72,350.80 L51.79,350.80 L51.79,337.63 L48.40,340.05 L48.40,338.24 L51.95,335.80 L53.72,335.80Z" fill="#000" stroke="#000"/><text x="58.43" y="350.8" font-size="21.8" fill="#000" stroke="#000" xml:space="preserve">0</text><text x="70.56" y="339.95" font-size="13.2" fill="#000" stroke="#000" letter-spacing="-0.3" xml:space="preserve">−</text><path d="M82.44,339.95 L81.28,339.95 L81.28,331.98 L79.23,333.44 L79.23,332.34 L81.37,330.87 L82.44,330.87Z" fill="#000" stroke="#000"/>
<path d="M53.71,477.80 L51.79,477.80 L51.79,464.63 L48.40,467.05 L48.40,465.24 L51.95,462.80 L53.71,462.80Z" fill="#000" stroke="#000"/><text x="58.43" y="477.8" font-size="21.8" fill="#000" stroke="#000" xml:space="preserve">0</text><text x="70.55" y="466.95" font-size="13.2" fill="#000" stroke="#000" letter-spacing="-0.3" xml:space="preserve">−2</text>
<path d="M53.71,604.80 L51.79,604.80 L51.79,591.63 L48.40,594.05 L48.40,592.24 L51.95,589.80 L53.71,589.80Z" fill="#000" stroke="#000"/><text x="58.43" y="604.8" font-size="21.8" fill="#000" stroke="#000" xml:space="preserve">0</text><text x="70.55" y="593.95" font-size="13.2" fill="#000" stroke="#000" letter-spacing="-0.3" xml:space="preserve">−3</text>
<path d="M78.81,665.50 L76.88,665.50 L76.88,652.33 L73.50,654.75 L73.50,652.94 L77.04,650.50 L78.81,650.50Z" fill="#000" stroke="#000"/><text x="83.53" y="665.5" font-size="21.8" fill="#000" stroke="#000" xml:space="preserve">0</text><text x="95.65" y="654.65" font-size="13.2" fill="#000" stroke="#000" letter-spacing="-0.3" xml:space="preserve">−2</text>
<path d="M243.31,665.50 L241.39,665.50 L241.39,652.33 L238.00,654.75 L238.00,652.94 L241.54,650.50 L243.31,650.50Z" fill="#000" stroke="#000"/><text x="248.03" y="665.5" font-size="21.8" fill="#000" stroke="#000" xml:space="preserve">0</text><text x="260.15" y="654.65" font-size="13.2" fill="#000" stroke="#000" letter-spacing="-0.3" xml:space="preserve">−</text><path d="M272.04,654.65 L270.87,654.65 L270.87,646.68 L268.83,648.14 L268.83,647.04 L270.97,645.57 L272.04,645.57Z" fill="#000" stroke="#000"/>
<path d="M411.75,665.50 L409.83,665.50 L409.83,652.33 L406.44,654.75 L406.44,652.94 L409.99,650.50 L411.75,650.50Z" fill="#000" stroke="#000"/><text x="416.47" y="665.5" font-size="21.8" fill="#000" stroke="#000" xml:space="preserve">.0</text>
<path d="M576.11,665.50 L574.19,665.50 L574.19,652.33 L570.80,654.75 L570.80,652.94 L574.35,650.50 L576.11,650.50Z" fill="#000" stroke="#000"/><text x="580.83" y="665.5" font-size="21.8" fill="#000" stroke="#000" xml:space="preserve">0</text><path d="M597.44,654.65 L596.27,654.65 L596.27,646.68 L594.22,648.14 L594.22,647.04 L596.37,645.57 L597.44,645.57Z" fill="#000" stroke="#000"/>
<text x="308.5" y="695.5" font-size="22" font-style="italic" stroke="#000">W</text>
<text x="339.8" y="695.5" font-size="22" stroke="#000">[Å]</text>
<g transform="translate(19,346.5) rotate(-90)" font-size="22" stroke="#000"><text x="0.5" y="0" font-style="italic">n</text><text x="17.6" y="0">(</text><text x="28" y="0" font-style="italic">W</text><text x="50.5" y="0">)</text></g>
<g stroke-width="0.25"><text x="164.50" y="426.6" font-size="22.08" fill="#0000dd" stroke="#0000dd" xml:space="preserve">Churchill et al. (</text><path d="M325.38,426.60 L323.43,426.60 L323.43,413.26 L320.00,415.71 L320.00,413.88 L323.59,411.41 L325.38,411.41Z" fill="#0000dd" stroke="#0000dd"/><text x="330.15" y="426.6" font-size="22.08" fill="#0000dd" stroke="#0000dd" xml:space="preserve">999)</text></g>
<g stroke-width="0.25"><text x="164.50" y="458.1" font-size="22.08" fill="#e0141c" stroke="#e0141c" xml:space="preserve">Narayanan et al. (2007)</text></g>
<g stroke-width="0.25"><text x="164.50" y="490.1" font-size="22.08" fill="#000" stroke="#000" xml:space="preserve">Steidel &amp; Sargent (</text><path d="M357.33,490.10 L355.38,490.10 L355.38,476.76 L351.95,479.21 L351.95,477.38 L355.54,474.91 L357.33,474.91Z" fill="#000" stroke="#000"/><text x="362.11" y="490.1" font-size="22.08" fill="#000" stroke="#000" xml:space="preserve">992)</text></g>
<g stroke-width="0.25"><text x="164.50" y="521.8" font-size="22.08" fill="#19e619" stroke="#19e619" xml:space="preserve">Nestor et al. (2005)</text></g>
</g>
<path d="M139.60,413.10L145.25,422.70H133.95Z" fill="#0000f0"/>
<rect x="134.75" y="446.45" width="10" height="9.3" fill="none" stroke="#d63038" stroke-width="1"/>
<circle cx="139.6" cy="482.6" r="5.85" fill="none" stroke="#1a1a1a" stroke-width="1.05"/>
<circle cx="139.75" cy="514.6" r="5.8" fill="#08f010" stroke="#003c00" stroke-width="1"/>
</svg>
</body></html>
